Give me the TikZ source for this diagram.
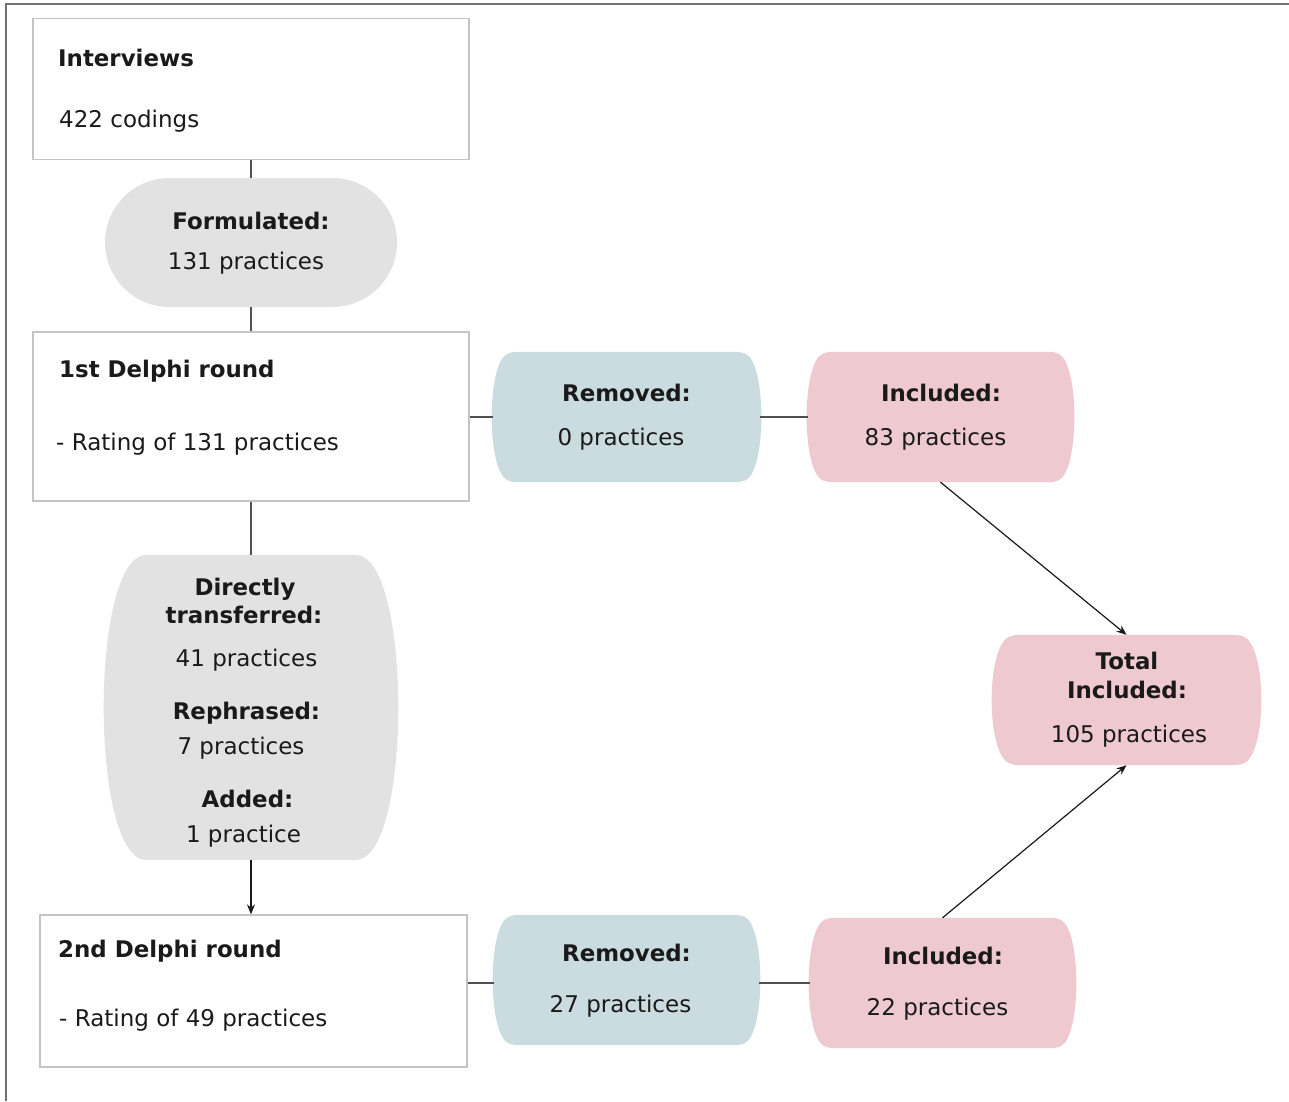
\documentclass[tikz,border=0pt]{standalone}
\usepackage{fontspec}
\setmainfont{DejaVu Sans}
\usetikzlibrary{shapes.misc,arrows.meta,calc}
\definecolor{txt}{HTML}{1A1A1A}
\definecolor{boxline}{HTML}{C4C4C4}
\definecolor{grayfill}{HTML}{E2E2E2}
\definecolor{bluefill}{HTML}{CADCE0}
\definecolor{pinkfill}{HTML}{EEC9D0}
\definecolor{conn}{HTML}{505050}
\definecolor{frame}{HTML}{707070}
\tikzset{
  box/.style={draw=boxline, line width=1.3pt, fill=white, rectangle, inner sep=0pt},
  stadium/.style={rounded rectangle, fill=grayfill, inner sep=0pt},
  barrel/.style={rectangle, inner sep=0pt},
  bt/.style={font=\fontsize{22.9}{26}\selectfont\bfseries, text=txt, inner sep=0pt},
  rt/.style={font=\fontsize{23}{27}\selectfont, text=txt, inner sep=0pt},
  link/.style={draw=conn, line width=1.4pt},
  arr/.style={draw=black!90, line width=1.2pt, -{Stealth[length=10pt,width=8pt]}},
}
% #1 node, #2 bulge, #3 height, #4 colour
\newcommand{\barrelfill}[4]{%
  \fill[#4, rounded corners=5pt] (#1.north) -- ($(#1.north east)+(-#2,0)$)
    .. controls ($(#1.north east)+(#2/3,0.09*#3)$) and ($(#1.south east)+(#2/3,-0.09*#3)$) ..
    ($(#1.south east)+(-#2,0)$) -- ($(#1.south west)+(#2,0)$)
    .. controls ($(#1.south west)+(-#2/3,-0.09*#3)$) and ($(#1.north west)+(-#2/3,0.09*#3)$) ..
    ($(#1.north west)+(#2,0)$) -- cycle;}
\begin{document}
\begin{tikzpicture}[x=1pt,y=-1pt]
\useasboundingbox (0,0) rectangle (1289,1101);
\fill[white] (0,0) rectangle (1289,1101);
% frame
\draw[frame, line width=1.5pt] (6,1101) -- (6,4) -- (1289,4);

% shapes
\node[box, minimum width=436, minimum height=141] (int) at (251,88.8) {};
\node[stadium, minimum width=292, minimum height=129] (form) at (251,242.5) {};
\node[box, minimum width=436, minimum height=169] (d1) at (251,416.5) {};
\node[barrel, minimum width=267, minimum height=130] (rem1) at (626.5,417) {};
\barrelfill{rem1}{19}{130}{bluefill}
\node[barrel, minimum width=265, minimum height=130] (inc1) at (940.5,417) {};
\barrelfill{inc1}{19}{130}{pinkfill}
\node[barrel, minimum width=267, minimum height=130] (tot) at (1126.5,700) {};
\barrelfill{tot}{21}{130}{pinkfill}
\node[barrel, minimum width=292, minimum height=305] (dt) at (251,707.5) {};
\barrelfill{dt}{38}{305}{grayfill}
\node[box, minimum width=427, minimum height=152] (d2) at (253.5,991) {};
\node[barrel, minimum width=265, minimum height=130] (rem2) at (626.5,980) {};
\barrelfill{rem2}{19}{130}{bluefill}
\node[barrel, minimum width=265, minimum height=130] (inc2) at (942.5,983) {};
\barrelfill{inc2}{19}{130}{pinkfill}

% connectors
\draw[link] (int.south) -- (form.north);
\draw[link] (form.south) -- (d1.north);
\draw[link] (d1.east |- rem1.west) -- (rem1.west);
\draw[link] (rem1.east) -- (inc1.west);
\draw[link] (d1.south) -- (dt.north);
\draw[arr] (dt.south) -- (dt.south |- d2.north);
\draw[link] (d2.east |- inc2.west) -- (rem2.west |- inc2.west);
\draw[link] (rem2.east |- inc2.west) -- (inc2.west);
\draw[arr] (inc1.south) -- (tot.north);
\draw[arr] (inc2.north) -- (tot.south);

% texts
\node[bt, anchor=base west] (t1) at (58,66.7) {Interviews};
\node[rt, anchor=base west] (t2) at (59,127.7) {422 codings};
\node[bt, anchor=base] (t3) at (251,229.3) {Formulated:};
\node[rt, anchor=base] (t4) at (246,269.3) {131 practices};
\node[bt, anchor=base west] (t5) at (59,377) {1st Delphi round};
\node[rt, anchor=base west] (t6) at (56,450) {- Rating of 131 practices};
\node[bt, anchor=base] (t7) at (626.5,401) {Removed:};
\node[rt, anchor=base] (t8) at (621,445) {0 practices};
\node[bt, anchor=base] (t9) at (941,401) {Included:};
\node[rt, anchor=base] (t10) at (935.5,445) {83 practices};
\node[bt, anchor=base] (t11) at (1127,669) {Total};
\node[bt, anchor=base] (t12) at (1127,698) {Included:};
\node[rt, anchor=base] (t13) at (1129,742) {105 practices};
\node[bt, anchor=base] (t14) at (245,595) {Directly};
\node[bt, anchor=base] (t15) at (244,623) {transferred:};
\node[rt, anchor=base] (t16) at (246.5,666) {41 practices};
\node[bt, anchor=base] (t17) at (246.5,719) {Rephrased:};
\node[rt, anchor=base] (t18) at (241,754) {7 practices};
\node[bt, anchor=base] (t19) at (247.5,807) {Added:};
\node[rt, anchor=base] (t20) at (243.5,842) {1 practice};
\node[bt, anchor=base west] (t21) at (58,957) {2nd Delphi round};
\node[rt, anchor=base west] (t22) at (59,1026) {- Rating of 49 practices};
\node[bt, anchor=base] (t23) at (626.5,961) {Removed:};
\node[rt, anchor=base] (t24) at (620.5,1012) {27 practices};
\node[bt, anchor=base] (t25) at (943,964) {Included:};
\node[rt, anchor=base] (t26) at (937.5,1015) {22 practices};
\end{tikzpicture}
\end{document}
